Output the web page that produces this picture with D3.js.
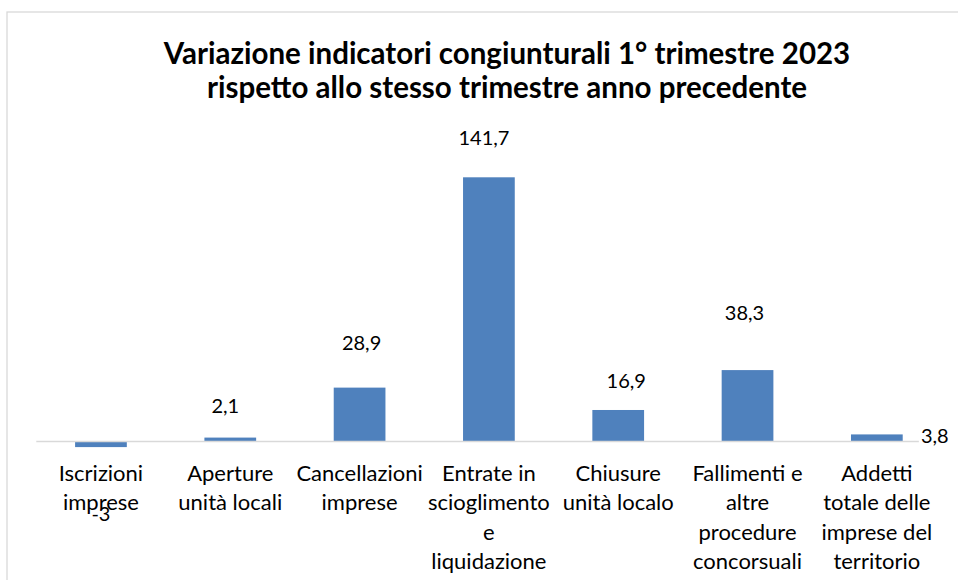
<!DOCTYPE html>
<html>
<head>
<meta charset="utf-8">
<script src="https://cdn.jsdelivr.net/npm/d3@7"></script>
<style>
  body { margin: 0; background: #fff; }
  text { font-family: Lato, "Liberation Sans", sans-serif; fill: #000; }
</style>
</head>
<body>
<div id="chart"></div>
<script>
// dati
const categories = [
  ["Iscrizioni", "imprese"],
  ["Aperture", "unità locali"],
  ["Cancellazioni", "imprese"],
  ["Entrate in", "scioglimento", "e", "liquidazione"],
  ["Chiusure", "unità localo"],
  ["Fallimenti e", "altre", "procedure", "concorsuali"],
  ["Addetti", "totale delle", "imprese del", "territorio"]
];
const values = [-3, 2.1, 28.9, 141.7, 16.9, 38.3, 3.8];
const valueLabels = ["-3", "2,1", "28,9", "141,7", "16,9", "38,3", "3,8"];
const titleLines = [
  "Variazione indicatori congiunturali 1° trimestre 2023",
  "rispetto allo stesso trimestre anno precedente"
];

// posizione delle etichette (spostate a mano nell'originale)
const labelOffsets = [[0, 72], [-5, -32], [2, -45], [-5, -39], [8, -29], [-3, -57], [58, 2]];

const width = 958, height = 580;
const svg = d3.select("#chart").append("svg")
    .attr("width", width)
    .attr("height", height);

// bordo del grafico
svg.append("rect")
    .attr("x", 7).attr("y", 12)
    .attr("width", 1000).attr("height", 700)
    .attr("fill", "#fff")
    .attr("stroke", "#d9d9d9")
    .attr("stroke-width", 1.3);

const x = d3.scaleBand()
    .domain(d3.range(values.length))
    .range([36.3, 941.5])
    .paddingInner(0.6)
    .paddingOuter(0.3);

const y = d3.scaleLinear()
    .domain([-20, 160])
    .range([441.5 + 20 * 1.8645, 441.5 - 160 * 1.8645]);

// barre
svg.selectAll("rect.bar")
    .data(values)
    .enter()
    .append("rect")
    .attr("class", "bar")
    .attr("x", (d, i) => x(i))
    .attr("width", x.bandwidth())
    .attr("y", d => y(Math.max(0, d)))
    .attr("height", d => Math.abs(y(d) - y(0)))
    .attr("fill", "#4f81bd");

// asse orizzontale
svg.append("line")
    .attr("x1", 36.3).attr("x2", 941.5)
    .attr("y1", y(0)).attr("y2", y(0))
    .attr("stroke", "#d9d9d9")
    .attr("stroke-width", 1.5);

// etichette dei valori
const lab = svg.selectAll("g.vlabel")
    .data(values)
    .enter()
    .append("g")
    .attr("class", "vlabel")
    .attr("transform", (d, i) => {
      const cx = x(i) + x.bandwidth() / 2 + labelOffsets[i][0];
      const cy = y(Math.max(0, d)) + labelOffsets[i][1];
      return `translate(${cx},${cy})`;
    });

lab.filter((d, i) => i === values.length - 1)
    .append("rect")
    .attr("x", -16).attr("y", -12)
    .attr("width", 32).attr("height", 24)
    .attr("fill", "#fff");

lab.append("text")
    .attr("text-anchor", "middle")
    .attr("dy", "0.35em")
    .style("font-size", "20px")
    .text((d, i) => valueLabels[i]);

// etichette delle categorie
const cat = svg.selectAll("text.cat")
    .data(categories)
    .enter()
    .append("text")
    .attr("class", "cat")
    .attr("text-anchor", "middle")
    .style("font-size", "22px");

cat.selectAll("tspan")
    .data((d, i) => d.map(t => ({ t, i })))
    .enter()
    .append("tspan")
    .attr("x", d => x(d.i) + x.bandwidth() / 2)
    .attr("y", (d, j) => 481 + j * 29.3)
    .text(d => d.t);

// titolo
svg.append("g")
    .selectAll("text")
    .data(titleLines)
    .enter()
    .append("text")
    .attr("x", 507)
    .attr("y", (d, i) => 64 + i * 34)
    .attr("text-anchor", "middle")
    .style("font-size", "29.5px")
    .style("font-weight", "bold")
    .text(d => d);
</script>
</body>
</html>
